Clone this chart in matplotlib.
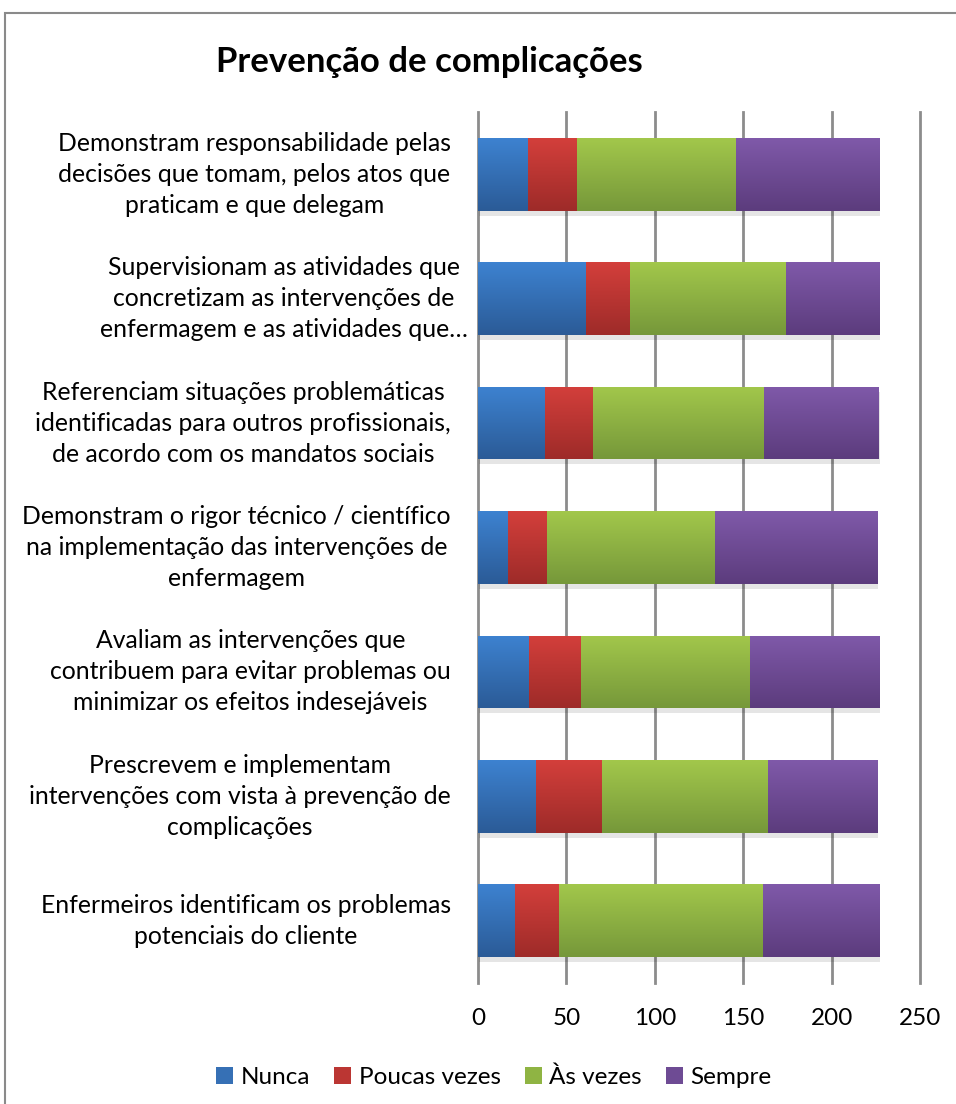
import matplotlib
matplotlib.use("Agg")
import matplotlib.pyplot as plt
import numpy as np
from matplotlib.colors import LinearSegmentedColormap
from matplotlib.patches import Rectangle, Patch

# ---------------- data ----------------
categories = [
    "Demonstram responsabilidade pelas\ndecisões que tomam, pelos atos que\npraticam e que delegam",
    "Supervisionam as atividades que\nconcretizam as intervenções de\nenfermagem e as atividades que…",
    "Referenciam situações problemáticas\nidentificadas para outros profissionais,\nde acordo com os mandatos sociais",
    "Demonstram o rigor técnico / científico\nna implementação das intervenções de\nenfermagem",
    "Avaliam as intervenções que\ncontribuem para evitar problemas ou\nminimizar os efeitos indesejáveis",
    "Prescrevem e implementam\nintervenções com vista à prevenção de\ncomplicações",
    "Enfermeiros identificam os problemas\npotenciais do cliente",
]
nunca = [28, 61, 38, 17, 29, 33, 21]
poucas_vezes = [28, 25, 27, 22, 29, 37, 25]
as_vezes = [90, 88, 97, 95, 96, 94, 115]
sempre = [81, 53, 65, 92, 73, 62, 66]
series_names = ["Nunca", "Poucas vezes", "Às vezes", "Sempre"]
xticks = [0, 50, 100, 150, 200, 250]
title = "Prevenção de complicações"

# ---------------- style ----------------
plt.rcParams['font.family'] = ['Lato', 'DejaVu Sans']
W, H = 956, 1104
fig = plt.figure(figsize=(W / 100, H / 100), dpi=100)
fig.patch.set_facecolor('white')

ax = fig.add_axes([478 / W, 1 - 983 / H, 442 / W, (983 - 112) / H])

top_colors = ['#3d82d0', '#d33f3b', '#a2c74b', '#7f59a9']
bot_colors = ['#2b5b97', '#9e2b29', '#76983a', '#5c3c7d']
mid_colors = ['#3670b5', '#bb3633', '#8fb443', '#6e4b94']

series = [nunca, poucas_vezes, as_vezes, sempre]
n = len(categories)
ypos = np.arange(n)[::-1]  # first category at top
height = 0.585
grad = np.linspace(0, 1, 64).reshape(-1, 1)

left = np.zeros(n)
totals = np.sum(np.array(series), axis=0)
# soft shadow below bars
ax.barh(ypos - 0.04, totals, left=0.4, height=height, color='#000000',
        alpha=0.10, zorder=2, linewidth=0)
for vals, tc, bc, mc, name in zip(series, top_colors, bot_colors, mid_colors, series_names):
    bars = ax.barh(ypos, vals, left=left, height=height, color=mc,
                   zorder=3, linewidth=0, label=name)
    cmap = LinearSegmentedColormap.from_list(name, [bc, tc])
    for rect in bars:
        x0, y0 = rect.get_x(), rect.get_y()
        w, h = rect.get_width(), rect.get_height()
        im = ax.imshow(grad, extent=(x0, x0 + w, y0, y0 + h), origin='lower',
                       cmap=cmap, aspect='auto', zorder=4, interpolation='bilinear')
        im.set_clip_path(rect)
    left = left + np.array(vals)

ax.set_xlim(0, 250)
ax.set_ylim(-0.5, n - 0.5)
ax.set_xticks(xticks)
ax.set_xticklabels([str(t) for t in xticks], fontsize=17.5, color='black')
ax.tick_params(axis='x', length=0, pad=18)
ax.set_yticks([])
ax.xaxis.grid(True, color='#8c8c8c', linewidth=2.0, zorder=1)
for gl in ax.get_xgridlines():
    gl.set_clip_on(False)
ax.set_axisbelow(True)
for s in ax.spines.values():
    s.set_visible(False)

# category labels
for lab, y in zip(categories, ypos):
    xr = -27 if not lab.endswith('…') else -10
    ax.annotate(lab, xy=(0, y), xycoords=('data', 'data'),
                xytext=(xr * 0.72, 0), textcoords='offset points',
                ha='right', va='center', multialignment='center',
                fontsize=17.8, linespacing=1.42, color='black')

fig.text(429 / W, 1 - 62 / H, title, ha='center', va='center',
         fontsize=25, fontweight='bold', color='black')

handles = [Patch(facecolor=c, edgecolor='none') for c in mid_colors]
fig.legend(handles, series_names, loc='center', bbox_to_anchor=(494 / W, 1 - 1077 / H),
           ncol=4, frameon=False, fontsize=17.5, handlelength=0.7, handleheight=0.7,
           handletextpad=0.3, columnspacing=1.0)

fig.add_artist(Rectangle((5 / W, -0.02), 1.2, 1.02 - 13 / H, transform=fig.transFigure,
                         fill=False, edgecolor='#8a8a8a', linewidth=1.5))

fig.savefig('out.png', dpi=100, facecolor='white')
